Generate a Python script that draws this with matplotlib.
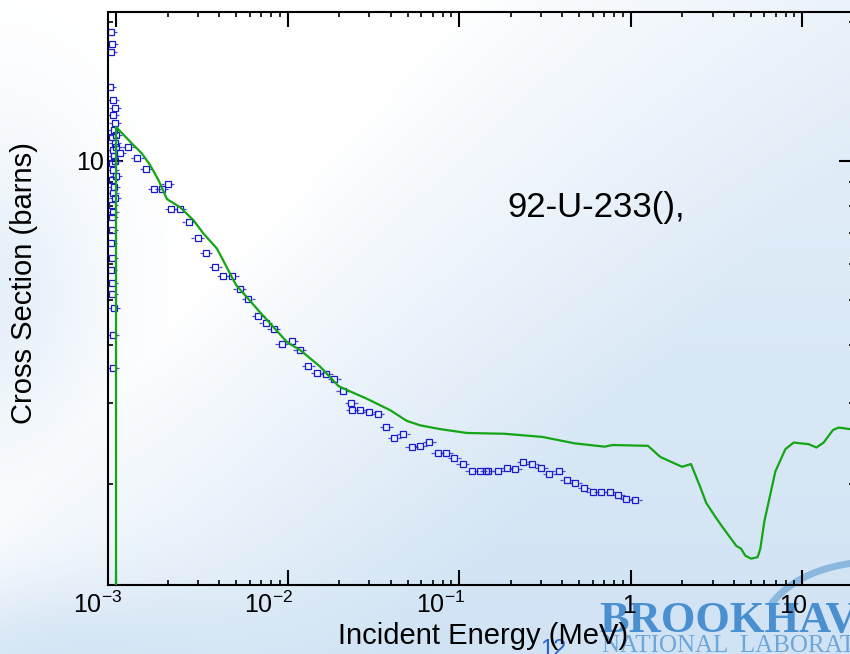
import numpy as np
import matplotlib
matplotlib.use("Agg")
import matplotlib.pyplot as plt
import matplotlib.transforms as mtransforms
from matplotlib.ticker import LogLocator, NullFormatter

plt.rcParams['font.family'] = ['Liberation Sans', 'DejaVu Sans']
plt.rcParams['mathtext.fontset'] = 'custom'
plt.rcParams['mathtext.rm'] = 'Liberation Sans'
plt.rcParams['mathtext.it'] = 'Liberation Sans:italic'
plt.rcParams['mathtext.bf'] = 'Liberation Sans:bold'

# -----------------------------------------------------------------------------
# Evaluated cross section (MeV, barns)
# -----------------------------------------------------------------------------
eval_energy = [1.0e-3, 1.0e-3, 1.234e-3, 1.412e-3, 1.579e-3, 1.765e-3, 1.981e-3,
               2.361e-3, 2.823e-3, 3.228e-3, 3.866e-3, 4.15e-3, 4.995e-3, 6.93e-3,
               9.97e-3, 1.183e-2, 1.547e-2, 1.978e-2, 2.116e-2, 2.896e-2, 3.96e-2,
               4.955e-2, 5.925e-2, 7.75e-2, 0.1109, 0.183, 0.3048, 0.4716, 0.7035,
               0.785, 1.26, 1.486, 1.989, 2.244, 2.542, 2.755, 3.11, 3.402, 4.124,
               4.392, 4.652, 5.022, 5.488, 5.69, 6.003, 6.962, 7.961, 8.899, 10.88,
               12.07, 13.31, 15.1, 16.28, 19.05, 20.0]
eval_xs = [0.5, 11.85, 10.92, 10.39, 9.80, 9.10, 8.27,
           7.94, 7.45, 6.97, 6.47, 6.16, 5.40, 4.70,
           4.05, 3.90, 3.59, 3.26, 3.22, 3.06, 2.89,
           2.74, 2.68, 2.63, 2.58, 2.57, 2.53, 2.45, 2.41,
           2.43, 2.42, 2.29, 2.18, 2.21, 1.97, 1.82, 1.70, 1.62, 1.47,
           1.45, 1.40, 1.38, 1.39, 1.45, 1.66, 2.13, 2.38, 2.46, 2.44,
           2.40, 2.46, 2.62, 2.65, 2.63, 2.63]

# -----------------------------------------------------------------------------
# Measured points (MeV, barns)
# -----------------------------------------------------------------------------
exp_energy = [9.35e-4, 9.48e-4, 9.35e-4, 9.23e-4, 9.61e-4, 9.87e-4, 9.61e-4, 9.87e-4,
              9.73e-4, 9.48e-4, 9.87e-4, 9.61e-4, 9.73e-4, 9.48e-4, 9.61e-4, 9.48e-4,
              9.61e-4, 9.48e-4, 9.61e-4, 9.48e-4, 9.48e-4, 9.35e-4, 9.48e-4, 9.35e-4,
              9.48e-4, 9.48e-4, 9.73e-4, 9.61e-4, 9.61e-4, 9.98e-4, 1.0e-3, 9.87e-4,
              1.0e-3, 9.73e-4, 9.87e-4,
              1.055e-3, 1.180e-3, 1.331e-3, 1.496e-3, 1.672e-3, 1.847e-3, 2.002e-3,
              2.093e-3, 2.361e-3, 2.654e-3, 2.987e-3, 3.348e-3, 3.788e-3, 4.224e-3,
              4.747e-3, 5.258e-3, 5.899e-3, 6.730e-3, 7.455e-3, 8.309e-3, 9.264e-3,
              1.057e-2, 1.179e-2, 1.322e-2, 1.492e-2, 1.677e-2, 1.875e-2, 2.099e-2,
              2.346e-2, 2.387e-2, 2.646e-2, 3.000e-2, 3.357e-2, 3.752e-2, 4.195e-2,
              4.733e-2, 5.300e-2, 5.925e-2, 6.686e-2, 7.513e-2, 8.400e-2, 9.389e-2,
              0.1051, 0.1186, 0.1326, 0.1437, 0.1482, 0.1682, 0.1900, 0.2118, 0.2362,
              0.2673, 0.3003, 0.3353, 0.3793, 0.4229, 0.4753, 0.5334, 0.5995, 0.6686,
              0.7574, 0.8444, 0.9414, 1.065]
exp_xs = [19.05, 17.89, 17.24, 14.44, 13.55, 13.01, 12.58, 12.10,
          11.67, 11.27, 10.94, 10.56, 10.25, 9.90, 9.56, 9.10,
          8.51, 8.03, 7.77, 7.58, 7.09, 6.64, 6.16, 5.81,
          5.44, 5.15, 4.80, 4.20, 3.56, 11.4, 10.7, 10.0,
          9.3, 8.8, 8.3,
          10.42, 10.74, 10.13, 9.60, 8.70, 8.70, 8.92,
          7.87, 7.86, 7.39, 6.81, 6.31, 5.90, 5.63,
          5.64, 5.29, 5.03, 4.62, 4.46, 4.34, 4.02,
          4.08, 3.90, 3.61, 3.48, 3.46, 3.37, 3.18,
          2.99, 2.90, 2.89, 2.87, 2.84, 2.66, 2.52,
          2.57, 2.40, 2.42, 2.47, 2.33, 2.34, 2.28,
          2.21, 2.14, 2.14, 2.13, 2.14, 2.13, 2.17, 2.16, 2.23,
          2.21, 2.17, 2.10, 2.13, 2.04, 2.01, 1.96, 1.92, 1.92,
          1.92, 1.89, 1.86, 1.85]

x_ticks = [1e-3, 1e-2, 1e-1, 1, 10]
x_tick_labels = [r'$\mathdefault{10^{-3}}$', r'$\mathdefault{10^{-2}}$',
                 r'$\mathdefault{10^{-1}}$', r'$\mathdefault{1}$', r'$\mathdefault{10}$']
y_ticks = [10]
y_tick_labels = ['10']

W, H = 850, 654
fig = plt.figure(figsize=(W / 100, H / 100), dpi=100)

# ---- slide background: soft white-to-blue wash ----
bg = fig.add_axes([0, 0, 1, 1], zorder=-1)
yy, xx = np.mgrid[0:H, 0:W]
u = xx / W
v = yy / H
s = u * 0.824 + (v - 0.8) * 0.566
t = 0.85 * np.clip(s / 0.5, 0, 1) ** 0.8 * (0.55 + 0.45 * v)
t += 0.45 * np.exp(-(u / 0.12) ** 2 - ((v - 0.45) / 0.25) ** 2)
t += 0.45 * np.exp(-(u / 0.25) ** 2 - ((v - 1.0) / 0.12) ** 2)
t = np.clip(t, 0, 1)
blue = np.array([200, 222, 242]) / 255.0
img = 1 - t[..., None] * (1 - blue)
bg.imshow(img, extent=[0, W, H, 0], aspect='auto', interpolation='bilinear')
bg.set_xlim(0, W)
bg.set_ylim(H, 0)
bg.axis('off')

# lab logo in the corner
arc_t = np.linspace(0, 1, 40)
arc_x = (1 - arc_t) ** 2 * 772 + 2 * (1 - arc_t) * arc_t * 800 + arc_t ** 2 * 862
arc_y = (1 - arc_t) ** 2 * 603 + 2 * (1 - arc_t) * arc_t * 568 + arc_t ** 2 * 562
bg.plot(arc_x, arc_y, color='#8cb8e0', lw=5, solid_capstyle='round')
bg.text(599, 632, 'BROOKHAVEN', fontfamily='Liberation Serif', fontweight='bold',
        fontsize=32, color='#4a8fd0', ha='left', va='baseline')
bg.text(602, 652, 'NATIONAL  LABORATORY', fontfamily='Liberation Serif',
        fontsize=18, color='#6fa6da', ha='left', va='baseline')
bg.text(553, 639, '12', fontsize=17, color='#3060c0', ha='center', va='top')

# ---- cross section plot ----
ax = fig.add_axes([108 / W, 1 - 585 / H, (854 - 108) / W, (585 - 12) / H], zorder=1)
ax.set_facecolor('none')
ax.set_xscale('log')
ax.set_yscale('log')
ax.set_xlim(8.98e-4, 20.0)
ax.set_ylim(1.21, 21.0)

exp_e = np.array(exp_energy)
exp_s = np.array(exp_xs)
# short energy-bin whiskers either side of each open square
ax.hlines(exp_s, exp_e / 1.09, exp_e / 1.045, color='#4a4ad6', lw=0.9, zorder=2)
ax.hlines(exp_s, exp_e * 1.045, exp_e * 1.09, color='#4a4ad6', lw=0.9, zorder=2)
ax.plot(exp_e, exp_s, 's', ms=4.8, mfc='none', mec='#1a1acd', mew=0.9, zorder=2)
ax.plot(eval_energy, eval_xs, color='#14a514', lw=1.6, zorder=3)

for sp in ax.spines.values():
    sp.set_linewidth(1.5)

ax.set_xticks(x_ticks)
ax.set_xticklabels(x_tick_labels)
ax.xaxis.set_minor_locator(LogLocator(base=10, subs=np.arange(2, 10)))
ax.xaxis.set_minor_formatter(NullFormatter())
ax.set_yticks(y_ticks)
ax.set_yticklabels(y_tick_labels)
ax.yaxis.set_minor_locator(LogLocator(base=10, subs=np.arange(2, 10)))
ax.yaxis.set_minor_formatter(NullFormatter())

ax.tick_params(which='both', direction='in', top=True, right=True, colors='black')
ax.tick_params(which='major', length=11, width=1.5)
ax.tick_params(which='minor', length=3.5, width=1.2)
ax.tick_params(axis='x', which='major', labelsize=18, pad=0)
ax.tick_params(axis='y', which='major', labelsize=18, pad=3)

# x labels sit right-aligned just past their tick, baseline below the axis
shift = mtransforms.ScaledTranslation(6 / 100, -28 / 100, fig.dpi_scale_trans)
for lbl in ax.get_xticklabels():
    lbl.set_ha('right')
    lbl.set_va('baseline')
    lbl.set_transform(lbl.get_transform() + shift)

ax.text(0.655, 0.658, '92-U-233(),', transform=ax.transAxes, fontsize=25,
        ha='center', va='center')

fig.text(24 / W, 1 - 283 / H, 'Cross Section (barns)', rotation=90,
         fontsize=21, ha='center', va='center')
fig.text(483 / W, 1 - 636 / H, 'Incident Energy (MeV)', fontsize=21,
         ha='center', va='center')

fig.savefig('out.png', dpi=100)
